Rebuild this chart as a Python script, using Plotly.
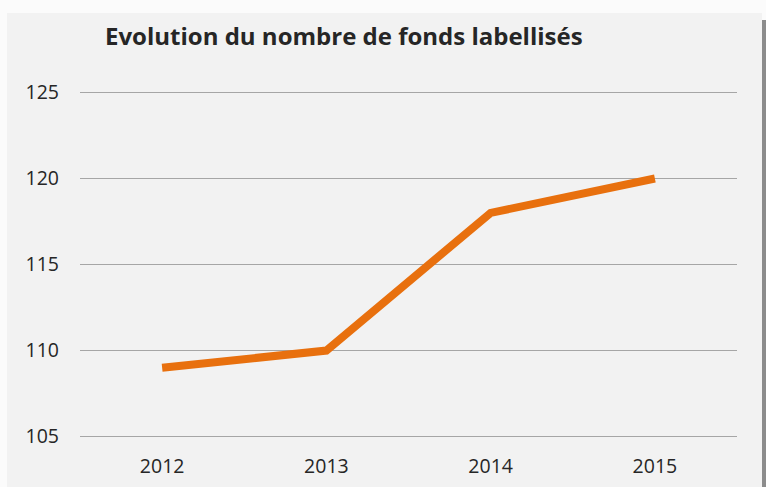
import plotly.graph_objects as go

years = ["2012", "2013", "2014", "2015"]
funds = [109, 110, 118, 120]
y_ticks = [105, 110, 115, 120, 125]

fig = go.Figure()
fig.add_trace(go.Scatter(
    x=years, y=funds, mode="lines",
    line=dict(color="#E8700E", width=8),
    hoverinfo="x+y",
))

W, H = 766, 487
L, R, T, B = 80, 29, 89, 47
pw, ph = W - L - R, H - T - B

def px(x):
    return (x - L) / pw

def py(y):
    return 1 - (y - T) / ph

shapes = [
    dict(type="rect", xref="paper", yref="paper", x0=px(0), x1=px(W), y0=py(H), y1=py(0),
         fillcolor="#fbfbfb", line=dict(width=0), layer="below"),
    dict(type="rect", xref="paper", yref="paper", x0=px(7), x1=px(762), y0=py(H), y1=py(13),
         fillcolor="#f2f2f2", line=dict(width=0), layer="below"),
    dict(type="rect", xref="paper", yref="paper", x0=px(762), x1=px(766), y0=py(H), y1=py(20),
         fillcolor="#8c8c8c", line=dict(width=0), layer="below"),
]

fig.update_layout(
    width=W, height=H,
    margin=dict(l=L, r=R, t=T, b=B, autoexpand=False),
    paper_bgcolor="#f2f2f2",
    plot_bgcolor="rgba(0,0,0,0)",
    showlegend=False,
    shapes=shapes,
    font=dict(family="Open Sans", color="#262626"),
    title=dict(
        text="<b>Evolution du nombre de fonds labellisés</b>",
        x=105 / W, xanchor="left", y=1 - 37 / H, yanchor="middle",
        font=dict(family="Open Sans", size=24, color="#262626"),
    ),
    xaxis=dict(
        type="category", range=[-0.5, 3.5], automargin=False,
        showgrid=False, zeroline=False, showline=False,
        tickfont=dict(size=19.5, color="#262626"),
        ticks="", ticklabelstandoff=12,
    ),
    yaxis=dict(
        range=[104.8, 125.2], tickvals=y_ticks, automargin=False,
        showgrid=True, gridcolor="#a6a6a6", gridwidth=1,
        zeroline=False, showline=False,
        tickfont=dict(size=19.5, color="#262626"),
        ticks="", ticklabelstandoff=20,
    ),
)

fig.write_html("out.html")
